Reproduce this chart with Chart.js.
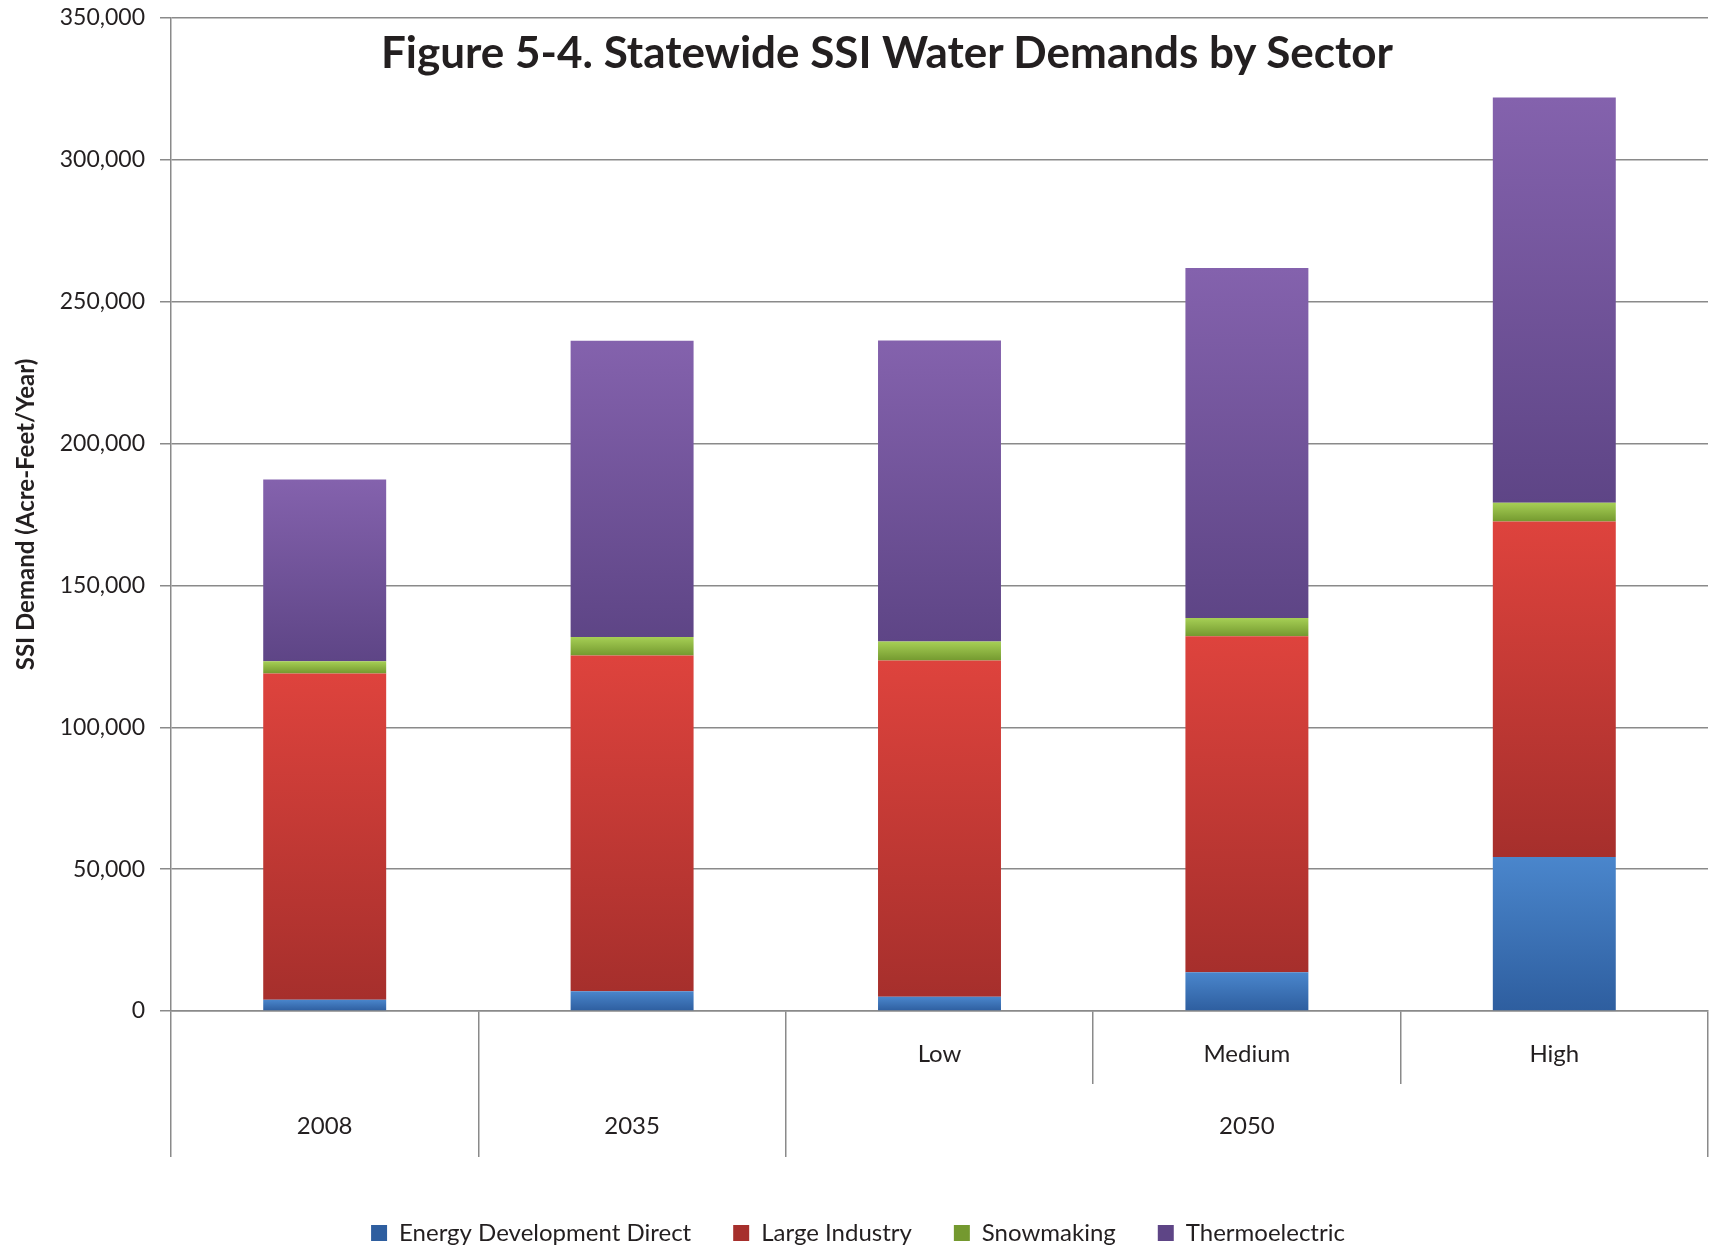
<!DOCTYPE html>
<html>
<head>
<meta charset="utf-8">
<title>Statewide SSI Water Demands by Sector</title>
<script src="https://cdn.jsdelivr.net/npm/chart.js@4.4.1/dist/chart.umd.min.js"></script>
<style>
  html, body { margin: 0; padding: 0; background: #fff; }
  #wrap { position: relative; width: 1711px; height: 1255px; }
  #chartTitle {
    position: absolute; left: 381px; top: 25px;
    font: bold 44px Lato, sans-serif; color: #231f20; white-space: nowrap;
  }
</style>
</head>
<body>
<div id="wrap">
  <canvas id="ssiChart" width="1711" height="1255"></canvas>
  <div id="chartTitle">Figure 5-4. Statewide SSI Water Demands by Sector</div>
</div>
<script>
// categories: inner row (scenario) and outer row (year)
const scenarios = ['', '', 'Low', 'Medium', 'High'];
const years = ['2008', '2035', '', '2050', ''];

// acre-feet / year
const energyDevelopment = [4000, 7000, 5000, 13700, 54300];
const largeIndustry = [115000, 118300, 118500, 118400, 118200];
const snowmaking = [4300, 6500, 6700, 6400, 6600];
const thermoelectric = [64000, 104400, 106100, 123400, 142900];

const yTicks = [0, 50000, 100000, 150000, 200000, 250000, 300000, 350000];

const gridGrey = '#8a8a8a';
const textColor = '#231f20';

// vertical gradient for each stacked segment (light top, dark bottom)
function segmentFill(top, bottom) {
    return function (c) {
        const chart = c.chart;
        const y = chart.scales.y;
        if (!y || c.dataIndex === undefined) return top;
        let base = 0;
        for (let d = 0; d < c.datasetIndex; d++) {
            base += chart.data.datasets[d].data[c.dataIndex];
        }
        const value = chart.data.datasets[c.datasetIndex].data[c.dataIndex];
        const y0 = y.getPixelForValue(base + value);
        const y1 = y.getPixelForValue(base);
        if (!isFinite(y0) || !isFinite(y1) || y0 === y1) return top;
        const g = chart.ctx.createLinearGradient(0, y0, 0, y1);
        g.addColorStop(0, top);
        g.addColorStop(1, bottom);
        return g;
    };
}

const outerLines = [0, 1, 2];

const ctx = document.getElementById('ssiChart').getContext('2d');
const ssiChart = new Chart(ctx, {
    type: 'bar',
    data: {
        labels: scenarios,
        datasets: [
            { label: 'Energy Development Direct', data: energyDevelopment, backgroundColor: segmentFill('#4a86cc', '#2e5e9f') },
            { label: 'Large Industry', data: largeIndustry, backgroundColor: segmentFill('#de433d', '#a62f2c') },
            { label: 'Snowmaking', data: snowmaking, backgroundColor: segmentFill('#a6cf55', '#74992f') },
            { label: 'Thermoelectric', data: thermoelectric, backgroundColor: segmentFill('#8462ad', '#5e4586') }
        ]
    },
    options: {
        responsive: false,
        animation: false,
        barPercentage: 0.4,
        categoryPercentage: 1,
        layout: { padding: { left: 8, right: 3, top: 18, bottom: 0 } },
        plugins: {
            legend: {
                position: 'bottom',
                labels: {
                    boxWidth: 16,
                    boxHeight: 16,
                    padding: 42,
                    color: textColor,
                    font: { family: 'Lato', size: 24 }
                }
            },
            tooltip: { enabled: false }
        },
        scales: {
            x: {
                stacked: true,
                position: 'bottom',
                border: { display: true, color: gridGrey, width: 1.5 },
                grid: { offset: true, drawOnChartArea: false, tickLength: 73, color: gridGrey, lineWidth: 1.5 },
                ticks: { padding: -44, color: textColor, font: { family: 'Lato', size: 24 } },
                afterFit: (scale) => { scale.height = 73; }
            },
            x2: {
                type: 'category',
                labels: years,
                position: 'bottom',
                offset: true,
                border: { display: false },
                grid: {
                    offset: true,
                    drawOnChartArea: false,
                    tickLength: 73,
                    lineWidth: 1.5,
                    color: (c) => (c.index === undefined || outerLines.includes(c.index)) ? gridGrey : 'rgba(0,0,0,0)'
                },
                ticks: { padding: -45, color: textColor, font: { family: 'Lato', size: 24 } },
                afterFit: (scale) => { scale.height = 95; }
            },
            y: {
                stacked: true,
                min: 0,
                max: 350000,
                afterBuildTicks: (scale) => { scale.ticks = yTicks.map(v => ({ value: v })); },
                border: { display: true, color: gridGrey, width: 1.5 },
                grid: { color: gridGrey, lineWidth: 1.5, tickLength: 11 },
                ticks: {
                    padding: 15,
                    color: textColor,
                    font: { family: 'Lato', size: 23 },
                    callback: (v) => v.toLocaleString('en-US')
                },
                title: {
                    display: true,
                    text: 'SSI Demand (Acre-Feet/Year)',
                    color: textColor,
                    font: { family: 'Lato', size: 24, weight: 'bold' }
                },
                afterFit: (scale) => {
                    scale.width = 163;
                    scale.paddingTop = 0;
                    scale.paddingBottom = 0;
                }
            }
        }
    }
});
</script>
</body>
</html>
